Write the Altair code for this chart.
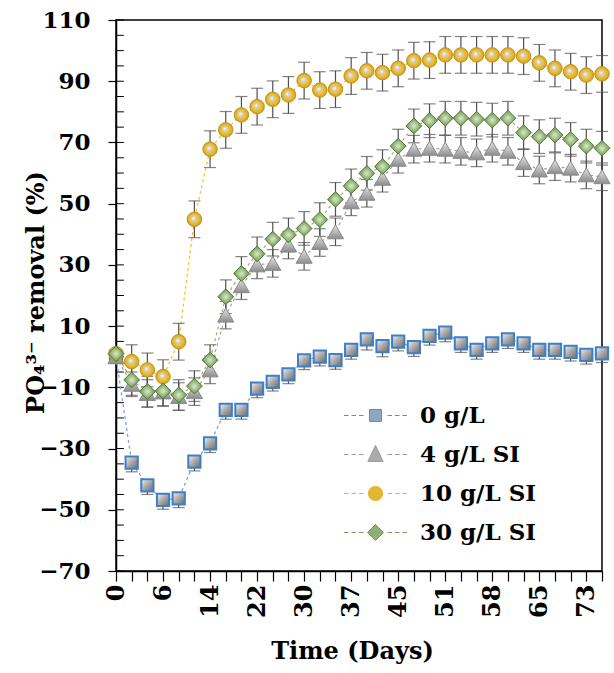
import json

import altair as alt
import pandas as pd

# Sampling points along the time axis (one per measurement day)
series_names = ["0 g/L", "4 g/L SI", "10 g/L SI", "30 g/L SI"]
sample_index = list(range(32))
# Day labels shown on every third sample
day_labels = ["0", "6", "14", "22", "30", "37", "45", "51", "58", "65", "73"]

# PO4(3-) removal (%) per series
removal_0 = [0, -34.6, -42, -46.8, -46.3, -34.3, -28.3, -17.4, -17.4, -10.4, -8.2,
             -5.8, -1.2, 0, -1.1, 2.2, 5.7, 3.5, 4.9, 3.1, 6.8, 7.9, 4.4, 2.2, 4.4,
             5.7, 4.4, 2.2, 2.2, 1.6, 0.6, 1.1]
removal_4 = [0, -9, -12, -11.5, -13, -11.4, -4.3, 13.6, 23.2, 30, 30.5, 36.5, 32.8,
             37.3, 40.8, 50.6, 53.4, 58.3, 64.5, 67.8, 68.1, 67.8, 67.1, 66.6, 68.1,
             67.1, 63.4, 61.0, 62.1, 61.6, 59.4, 58.8]
removal_10 = [1, -1.6, -4.3, -6.5, 4.9, 44.9, 67.8, 74.1, 79, 81.7, 84.1, 85.5, 90.2,
              87.1, 87.4, 91.7, 93.4, 92.8, 94.2, 96.7, 96.9, 98.6, 98.6, 98.6, 98.6,
              98.6, 98.2, 96.0, 94.2, 93.1, 92.0, 92.4]
removal_30 = [1, -7.6, -11.4, -11.2, -12.5, -9.6, -1.1, 19.6, 27.2, 33.6, 38.4, 39.8,
              41.9, 44.8, 51.4, 55.8, 59.9, 62.1, 68.8, 75.4, 77.1, 77.9, 77.9, 77.6,
              77.3, 77.9, 73.2, 71.9, 72.4, 71.0, 68.8, 68.1]

# Error bar half-lengths (minus side / plus side)
err_minus_0 = [1, 3, 3, 3, 3, 3, 3, 3, 3, 3, 3, 3, 3, 3, 3, 3, 3.5, 3.5, 3, 3, 3, 3,
               3, 3, 3, 3, 3, 3, 3, 3, 3, 3]
err_plus_0 = [0] * 32
err_4 = [1, 4, 4.5, 4.5, 4.5, 4.5, 4.5, 4.5, 4.5, 4.5, 4.5, 4.5, 4.5, 4.5, 4.5, 4.5,
         4.5, 4.5, 4.5, 4.5, 4.5, 4.5, 4.5, 4.5, 4.5, 4.5, 4.5, 4.5, 4.5, 4.5, 4.5, 4.5]
err_10 = [1, 5.5, 5.5, 5.5, 6, 6, 6, 6, 6, 6, 6, 6, 6, 6, 6, 6, 6, 6, 6, 6, 6, 6, 6,
          6, 6, 6, 6, 6, 6, 6, 6, 6]
err_30 = [1, 5, 5, 5, 5, 5, 5, 5.5, 5.5, 5.5, 5.5, 5.5, 5.5, 5.5, 5.5, 5.5, 5.5, 5.5,
          5.5, 5.5, 5.5, 5.5, 5.5, 5.5, 5.5, 5.5, 5.5, 5.5, 5.5, 5.5, 5.5, 5.5]

minor_ticks = list(range(-70, 111, 5))
major_ticks = list(range(-70, 111, 20))

values = [removal_0, removal_4, removal_10, removal_30]
minus = [err_minus_0, err_4, err_10, err_30]
plus = [err_plus_0, err_4, err_10, err_30]

rows = []
for name, vals, lo_e, hi_e in zip(series_names, values, minus, plus):
    for i, v, a, b in zip(sample_index, vals, lo_e, hi_e):
        rows.append({"idx": i, "series": name, "value": v, "lo": v - a, "hi": v + b})
df = pd.DataFrame(rows)

FONT = "DejaVu Serif"
line_colors = ["#6f9fd8", "#a3a3a3", "#f0c020", "#8fb86a"]
legend_fills = ["#8ea6c2", "#ababab", "#e3b634", "#8fb073"]
legend_strokes = ["#5a8fd0", "#9a9a9a", "#e6b526", "#76a058"]

# Legend symbols (unit = 20 px): dashed line segments either side of the marker
dashes = ("M-1.575,0L-1.35,0M-1.2,0L-0.975,0M-0.825,0L-0.6,0"
          "M0.6,0L0.825,0M0.975,0L1.2,0M1.35,0L1.575,0")
legend_paths = [
    dashes + "M-0.3,-0.3L0.3,-0.3L0.3,0.3L-0.3,0.3Z",
    dashes + "M0,-0.45L0.38,0.35L-0.38,0.35Z",
    dashes + "M-0.35,0C-0.35,-0.47,0.35,-0.47,0.35,0C0.35,0.47,-0.35,0.47,-0.35,0Z",
    dashes + "M0,-0.4L0.4,0L0,0.4L-0.4,0Z",
]

label_expr = ("datum.value % 3 == 0 ? " + json.dumps(day_labels)
              + "[datum.value / 3] : ''")

x_scale = alt.Scale(domain=[0, 31], nice=False, zero=False)
x_axis = alt.Axis(
    values=sample_index, labelExpr=label_expr, labelAngle=270,
    labelFontSize=24, tickSize=10, labelPadding=3, labelOverlap=False,
    labelFlush=False, labelBound=False, title="Time (Days)", titleFontSize=24,
    titleX=236, titleY=68, titleBaseline="top", titleAlign="center",
)
x_enc = alt.X("idx:Q", scale=x_scale, axis=x_axis)

y_axis = alt.Axis(
    values=major_ticks, labelFontSize=23, tickSize=8, labelPadding=18,
    title="PO₄³⁻ removal (%)", titleFontSize=24, titleX=-68, titleY=272,
    titleAngle=270, titleAlign="center", titleBaseline="bottom",
)
y_scale = alt.Scale(domain=[-70, 110], nice=False, zero=False)


def y_enc(field):
    return alt.Y(field, scale=y_scale, axis=y_axis)


base = alt.Chart(df)

# Dashed connecting line of each series
line_layers = [
    base.transform_filter(alt.datum.series == name)
    .mark_line(strokeDash=[3, 3], strokeWidth=1.2, color=col)
    .encode(x=x_enc, y=y_enc("value:Q"))
    for name, col in zip(series_names, line_colors)
]

err_color = "#505050"
err_rules = base.mark_rule(color=err_color, strokeWidth=1.2).encode(
    x=x_enc, y=y_enc("lo:Q"), y2="hi:Q"
)
cap_lo = base.mark_tick(color=err_color, thickness=1.2, size=12, orient="horizontal").encode(
    x=x_enc, y=y_enc("lo:Q")
)
cap_hi = base.mark_tick(color=err_color, thickness=1.2, size=12, orient="horizontal").encode(
    x=x_enc, y=y_enc("hi:Q")
)


def stops(*pairs):
    return [alt.GradientStop(offset=o, color=c) for o, c in pairs]


marker_styles = [
    dict(shape="square", size=150, strokeWidth=2, stroke="#3f7fc6",
         fill=alt.LinearGradient(gradient="linear", x1=0, y1=0, x2=1, y2=1,
                                 stops=stops((0, "#f2f2f2"), (0.5, "#a8a8a8"), (1, "#6a6a6a")))),
    dict(shape="triangle-up", size=260, strokeWidth=1, stroke="#8a8a8a",
         fill=alt.LinearGradient(gradient="linear", x1=0, y1=0, x2=0, y2=1,
                                 stops=stops((0, "#e6e6e6"), (1, "#8c8c8c")))),
    dict(shape="circle", size=210, strokeWidth=1, stroke="#c09418",
         fill=alt.RadialGradient(gradient="radial", x1=0.42, y1=0.42, r1=0,
                                 x2=0.5, y2=0.5, r2=0.5,
                                 stops=stops((0, "#ffffff"), (0.3, "#d6cdb0"), (0.65, "#eabd35"), (1, "#d2a01c")))),
    dict(shape="diamond", size=250, strokeWidth=1, stroke="#527a3a",
         fill=alt.RadialGradient(gradient="radial", x1=0.5, y1=0.5, r1=0,
                                 x2=0.5, y2=0.5, r2=0.5,
                                 stops=stops((0, "#dde8d2"), (0.5, "#a2bf86"), (1, "#6b9548")))),
]

marker_layers = []
for name, style in zip(series_names, marker_styles):
    marker_layers.append(
        base.transform_filter(alt.datum.series == name)
        .mark_point(filled=True, opacity=1, **style)
        .encode(x=x_enc, y=y_enc("value:Q"))
    )

legend_def = alt.Legend(
    orient="none", legendX=239, legendY=375, title=None,
    symbolSize=1600, symbolStrokeWidth=1, symbolOpacity=1,
    rowPadding=6, labelOffset=24, labelFont=FONT, labelFontSize=23,
    labelFontWeight="bold", labelColor="black", labelLimit=300,
)
# Legend carrier: no rows survive the filter, the legend comes from the scale domain
legend_layer = base.transform_filter(alt.datum.idx < 0).mark_point(
    filled=True, opacity=1
).encode(
    x=x_enc,
    y=y_enc("value:Q"),
    shape=alt.Shape("series:N", scale=alt.Scale(domain=series_names, range=legend_paths),
                    legend=legend_def),
    fill=alt.Fill("series:N", scale=alt.Scale(domain=series_names, range=legend_fills),
                  legend=legend_def),
    stroke=alt.Stroke("series:N", scale=alt.Scale(domain=series_names, range=legend_strokes),
                      legend=legend_def),
)

minor = alt.Chart(pd.DataFrame({"tick": minor_ticks})).mark_rule(
    color="black", strokeWidth=1
).encode(
    y=y_enc("tick:Q"),
    x=alt.XDatum(0, scale=x_scale, axis=x_axis),
    x2=alt.X2Datum(0.5),
)

chart = alt.layer(
    minor, *line_layers, err_rules, cap_lo, cap_hi, *marker_layers, legend_layer
).properties(
    width=486,
    height=551,
    autosize=alt.AutoSizeParams(type="none"),
    padding={"left": 116, "top": 20, "right": 12, "bottom": 102},
    background="white",
).configure_view(
    stroke="black", strokeWidth=1.5
).configure_axis(
    grid=False, domainColor="black", domainWidth=1.5, tickColor="black", tickWidth=1.2,
    labelColor="black", titleColor="black", labelFont=FONT, titleFont=FONT,
    labelFontWeight="bold", titleFontWeight="bold",
)

chart.save("out.html", embed_options={"renderer": "svg", "actions": False})
